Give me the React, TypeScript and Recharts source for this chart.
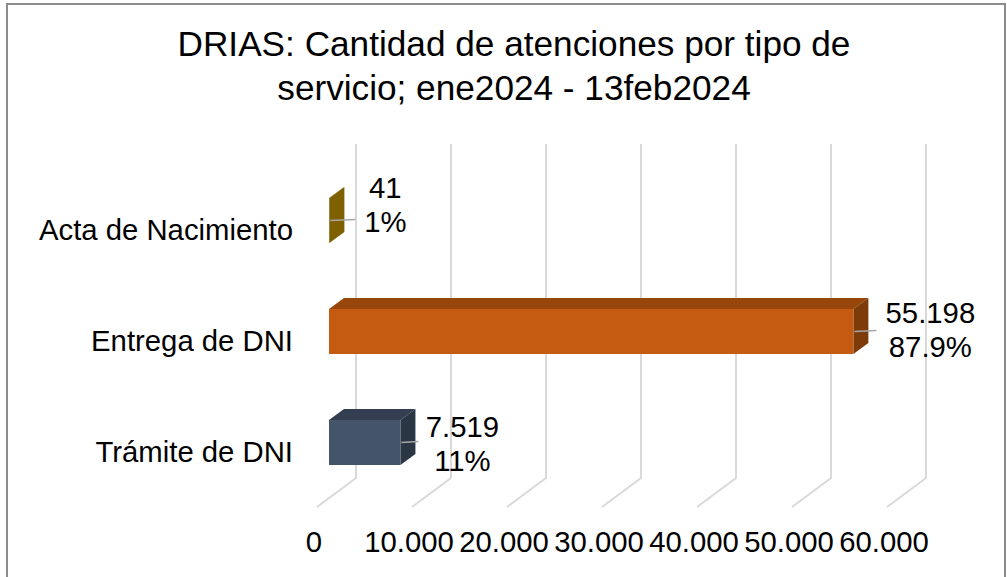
import React from 'react';
import { BarChart, Bar, XAxis, YAxis, CartesianGrid, LabelList } from 'recharts';

const categories = ['Acta de Nacimiento', 'Entrega de DNI', 'Trámite de DNI'];
const values = [41, 55198, 7519];
const percents = ['1%', '87.9%', '11%'];
const xTicks = [0, 10000, 20000, 30000, 40000, 50000, 60000];
const titleLines = ['DRIAS: Cantidad de atenciones por tipo de', 'servicio; ene2024 - 13feb2024'];

const data = categories.map((name, i) => ({ name, value: values[i], percent: percents[i] }));

// front, top and side tint of each bar
const BAR_COLORS = [
  { front: '#7f6000', top: '#6a5000', side: '#7f6000' },
  { front: '#c55a11', top: '#97470c', side: '#7e3b0a' },
  { front: '#44546a', top: '#333f50', side: '#2b3645' },
];
const LABEL_DX = [56, 77, 62];
const LABEL_DY = [-2, 12, 15];
const LEADER_DX = [26, 23, 18];
const FONT = '"Liberation Sans", Arial, sans-serif';
const TEXT_SIZE = 29.3;
const DEPTH_X = 15;
const DEPTH_Y = 11;

const Box3D = (props: any) => {
  const { x, y, width, height, index } = props;
  const c = BAR_COLORS[index];
  const r = x + width;
  const b = y + height;
  return (
    <g>
      <polygon
        points={`${x},${y} ${x + DEPTH_X},${y - DEPTH_Y} ${r + DEPTH_X},${y - DEPTH_Y} ${r},${y}`}
        fill={c.top}
      />
      <polygon
        points={`${r},${y} ${r + DEPTH_X},${y - DEPTH_Y} ${r + DEPTH_X},${b - DEPTH_Y} ${r},${b}`}
        fill={c.side}
      />
      <rect x={x} y={y} width={width} height={height} fill={c.front} />
    </g>
  );
};

const GridLine = (props: any) => {
  const { x1, y1, y2 } = props;
  return (
    <polyline
      points={`${x1 + 27},${y1 - 21} ${x1 + 27},${y2 - 20} ${x1 - 12},${y2 + 9}`}
      fill="none"
      stroke="#d9d9d9"
      strokeWidth={2}
    />
  );
};

const DoubleLabel = (props: any) => {
  const { x, y, width, height, index } = props;
  const r = x + width;
  const mid = y + height / 2;
  const cx = r + LABEL_DX[index];
  const cy = mid + LABEL_DY[index];
  return (
    <g>
      <line x1={r + 1} y1={mid} x2={r + LEADER_DX[index]} y2={mid - 1} stroke="#a6a6a6" strokeWidth={1.5} />
      <text x={cx} y={cy - 21} textAnchor="middle" fontFamily={FONT} fontSize={TEXT_SIZE} fill="#000">
        {values[index].toLocaleString('de-DE')}
      </text>
      <text x={cx} y={cy + 13} textAnchor="middle" fontFamily={FONT} fontSize={TEXT_SIZE} fill="#000">
        {percents[index]}
      </text>
    </g>
  );
};

const XTick = (props: any) => {
  const { x, y, payload } = props;
  return (
    <text x={x - 15} y={y} textAnchor="middle" fontFamily={FONT} fontSize={TEXT_SIZE} fill="#000">
      {payload.value.toLocaleString('de-DE')}
    </text>
  );
};

const YTick = (props: any) => {
  const { x, y, payload } = props;
  return (
    <text x={x} y={y + 19} textAnchor="end" fontFamily={FONT} fontSize={TEXT_SIZE} fill="#000">
      {payload.value}
    </text>
  );
};

export default function App() {
  return (
    <div style={{ position: 'absolute', left: 0, top: 0, width: 1007, height: 577, overflow: 'hidden', background: '#fff' }}>
      <div
        style={{
          position: 'absolute',
          left: 6,
          top: 3,
          width: 996,
          height: 600,
          borderLeft: '2px solid #8c8c8c',
          borderTop: '2px solid #8c8c8c',
          borderRight: '2px solid #8c8c8c',
        }}
      />
      <div style={{ position: 'absolute', left: 0, top: 0 }}>
        <BarChart
          width={1007}
          height={577}
          layout="vertical"
          data={data}
          margin={{ top: 165, right: 108, bottom: 0, left: 0 }}
          barSize={45}
        >
          <text x={514} y={56} textAnchor="middle" fontFamily={FONT} fontSize={35.2} fill="#000">
            {titleLines[0]}
          </text>
          <text x={514} y={100} textAnchor="middle" fontFamily={FONT} fontSize={35.2} fill="#000">
            {titleLines[1]}
          </text>
          <CartesianGrid horizontal={false} vertical={(p: any) => <GridLine key={p.key} {...p} />} verticalValues={xTicks} />
          <XAxis
            type="number"
            domain={[0, 60000]}
            ticks={xTicks}
            interval={0}
            axisLine={false}
            tickLine={false}
            tick={<XTick />}
            height={79}
            tickMargin={48}
          />
          <YAxis
            type="category"
            dataKey="name"
            width={329}
            axisLine={false}
            tickLine={false}
            tick={<YTick />}
            tickMargin={30}
          />
          <Bar dataKey="value" isAnimationActive={false} shape={<Box3D />}>
            <LabelList dataKey="value" content={<DoubleLabel />} />
          </Bar>
        </BarChart>
      </div>
    </div>
  );
}
